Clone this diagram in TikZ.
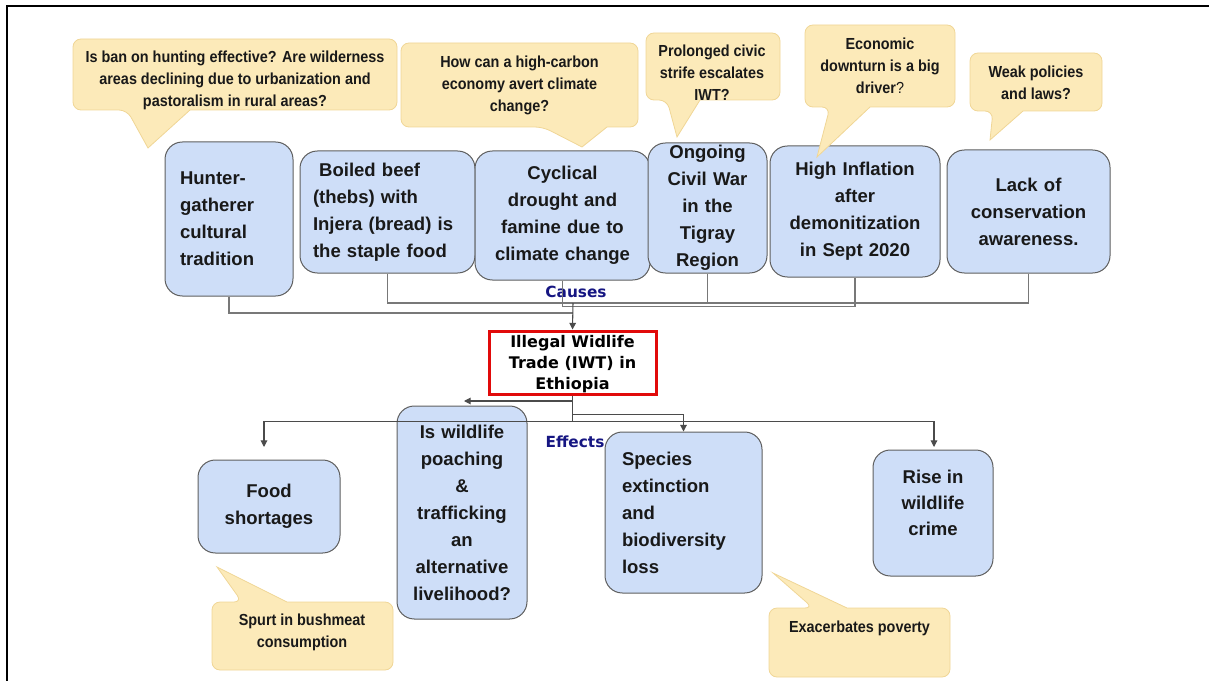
\documentclass[tikz,border=0pt]{standalone}
\usepackage{fontspec}
\setmainfont{Liberation Sans}
\newfontfamily\callfont[FakeStretch=0.9]{Liberation Sans}
\newfontfamily\dvfont{DejaVu Sans}
\usetikzlibrary{arrows.meta}
\definecolor{boxblue}{RGB}{206,222,248}
\definecolor{boxedge}{RGB}{95,95,95}
\definecolor{callfill}{RGB}{252,234,185}
\definecolor{calledge}{RGB}{240,214,150}
\definecolor{textdark}{RGB}{25,25,25}
\definecolor{navylab}{RGB}{22,22,130}
\definecolor{iwtred}{RGB}{225,10,10}
\definecolor{connc}{RGB}{120,120,120}
\definecolor{arrc}{RGB}{75,75,75}
\tikzset{
  bluebox/.style={draw=boxedge, fill=boxblue, rounded corners=13pt, line width=0.75pt,
    inner sep=0pt, font=\fontsize{13.9}{20.25}\selectfont\bfseries, text=textdark},
  calloutshape/.style={draw=calledge, fill=callfill, line width=0.6pt},
  calltext/.style={font=\callfont\bfseries\fontsize{12}{16.5}\selectfont, align=center, text=textdark, inner sep=0pt},
  iwtbox/.style={draw=iwtred, line width=2.25pt, fill=white, inner sep=0pt},
  iwttext/.style={font=\dvfont\bfseries\fontsize{12}{15.75}\selectfont, align=center, text=black, inner sep=0pt},
  seclabel/.style={font=\dvfont\bfseries\fontsize{11.5}{13}\selectfont, text=navylab, inner sep=0pt},
  conn/.style={draw=connc, line width=0.8pt},
  arr/.style={draw=arrc, line width=0.8pt, -{Triangle[length=5pt,width=5pt]}},
}
% callout with tail on bottom edge: x1 y1 x2 y2 bx1 bx2 tipx tipy
\newcommand{\calldown}[8]{%
  \path[calloutshape] ({(#1+#3)/2},#2) [rounded corners=6pt] -- (#1,#2) -- (#1,#4) -- (#5,#4)
    [sharp corners] -- (#7,#8) -- (#6,#4) [rounded corners=6pt] -- (#3,#4) -- (#3,#2) -- cycle;}
% callout with tail on top edge
\newcommand{\callup}[8]{%
  \path[calloutshape] ({(#1+#3)/2},#4) [rounded corners=6pt] -- (#1,#4) -- (#1,#2) -- (#5,#2)
    [sharp corners] -- (#7,#8) -- (#6,#2) [rounded corners=6pt] -- (#3,#2) -- (#3,#4) -- cycle;}
\begin{document}
\begin{tikzpicture}[x=0.75pt,y=-0.75pt]
\useasboundingbox (0,0) rectangle (1209,681);
% frame
\draw[line width=1.5pt, line cap=rect] (7,681) -- (7,6) -- (1209,6);

% cause boxes
\node[bluebox, minimum width=96pt, minimum height=115.5pt, text width=73.5pt, align=left] (hunter) at (229,219) {Hunter-\\gatherer\\cultural\\tradition};
\node[bluebox, minimum width=131.25pt, minimum height=91.5pt, text width=111.75pt, align=left] (beef) at (387.5,212) {\ Boiled beef\\(thebs) with\\Injera (bread) is\\the staple food};
\node[bluebox, minimum width=131.25pt, minimum height=96.75pt, text width=123.75pt, align=center] (cyclical) at (562.5,215.5) {Cyclical\\drought and\\famine due to\\climate change};
\node[bluebox, minimum width=89.25pt, minimum height=97.5pt, text width=82.5pt, align=center] (ongoing) at (707.5,208) {Ongoing\\Civil War\\in the\\Tigray\\Region};
\node[bluebox, minimum width=127.5pt, minimum height=98.25pt, text width=120pt, align=center] (high) at (855,211.5) {High Inflation\\after\\demonitization\\in Sept 2020};
\node[bluebox, minimum width=122.25pt, minimum height=92.25pt, text width=112.5pt, align=center] (lack) at (1028.5,211.5) {Lack of\\conservation\\awareness.};

% central node
\node[iwtbox, minimum width=125.25pt, minimum height=47.25pt] (iwt) at (572.5,362.5) {};
\node[iwttext] (iwtlabel) at (572.5,364) {Illegal Widlife\\Trade (IWT) in\\Ethiopia};

% effect boxes
\node[bluebox, minimum width=106.5pt, minimum height=69.75pt, text width=97.5pt, align=center] (food) at (269,506.5) {Food\\shortages};
\node[bluebox, minimum width=97.5pt, minimum height=159.75pt, text width=90pt, align=center] (wildlife) at (462,512.5) {Is wildlife\\poaching\\\&\\trafficking\\an\\alternative\\livelihood?};
\node[bluebox, minimum width=117.75pt, minimum height=120.75pt, text width=92.25pt, align=left] (species) at (683.5,512.5) {Species\\extinction\\and\\biodiversity\\loss};
\node[bluebox, minimum width=90pt, minimum height=94.5pt] (rise) at (933,513) {};
\node[font=\fontsize{13.9}{19.5}\selectfont\bfseries, text=textdark, align=center, inner sep=0pt] (risetext) at (933,503) {Rise in\\wildlife\\crime};

% section labels
\node[seclabel] (causes) at (576,292) {Causes};
\node[seclabel] (effects) at (575,442) {Effects};

% cause connectors
\coordinate (jc) at (573,303);
\coordinate (jh) at (573,313);
\draw[conn] (beef.south) |- (jc);
\draw[conn] (ongoing.south) |- (jc);
\draw[conn] (lack.south) |- (jc);
\draw[conn] (cyclical.south) -- ++(0,26) -| (high.south);
\draw[conn] (hunter.south) |- (jh);
\draw[arr] (jc) -- (iwt.north);

% effect connectors
\coordinate (wlin) at (464,401);
\coordinate (foodin) at (264,447);
\coordinate (risein) at (934,447);
\draw[arr] (iwt.south) |- (wlin);
\draw[arr] (iwt.south) -- ++(0,19) -| (species.north);
\draw[arr] (iwt.south) -- ++(0,26) -| (foodin);
\draw[arr] (iwt.south) -- ++(0,26) -| (risein);

% callouts
\calldown{73}{39}{397}{110}{127}{190}{148}{148}
\node[calltext] (q1) at (235,80) {Is ban on hunting effective? Are wilderness\\areas declining due to urbanization and\\pastoralism in rural areas?};
\calldown{401}{43}{638}{127}{543}{607}{582}{147}
\node[calltext] (q2) at (519.5,85) {How can a high-carbon\\economy avert climate\\change?};
\calldown{646}{33}{780}{100}{667}{700}{677}{137}
\node[calltext] (q3) at (712,73) {Prolonged civic\\strife escalates\\IWT?};
\calldown{805}{25}{955}{107}{830}{870}{817}{157}
\node[calltext] (q4) at (880,66) {Economic\\downturn is a big\\driver{\mdseries ?}};
\calldown{970}{53}{1102}{111}{993}{1023}{990}{140}
\node[calltext] (q5) at (1036,82.5) {Weak policies\\and laws?};
\callup{212}{602}{393}{670}{242}{287}{217}{567}
\node[calltext] (q6) at (302,632) {Spurt in bushmeat\\consumption};
\callup{769}{608}{950}{677}{813}{847}{773}{573}
\node[calltext] (q7) at (859.5,628) {Exacerbates poverty};
\end{tikzpicture}
\end{document}
